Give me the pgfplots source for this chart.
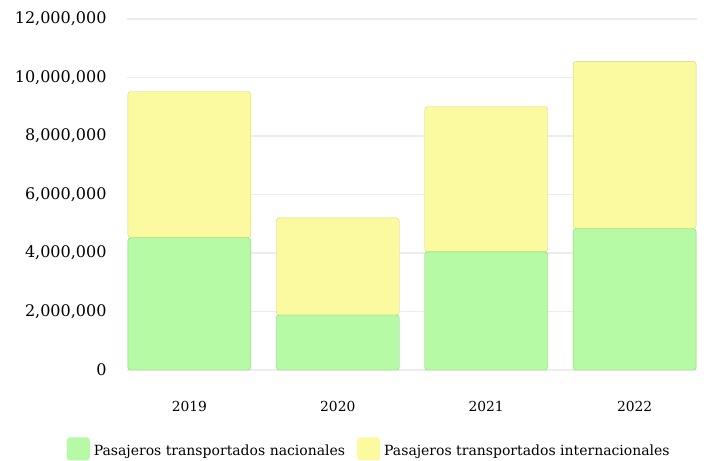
\documentclass[border=0pt]{standalone}
\usepackage{pgfplots}
\pgfplotsset{compat=1.18}
\usepackage{fontspec}
\setmainfont{DejaVu Serif}

\definecolor{nacional}{RGB}{183,250,165}
\definecolor{nacedge}{RGB}{130,215,115}
\definecolor{internac}{RGB}{252,250,160}
\definecolor{intedge}{RGB}{215,212,120}
\definecolor{gridc}{RGB}{236,236,236}

\begin{document}
\begin{tikzpicture}
\useasboundingbox (-127bp,-91bp) rectangle (577bp,370bp);
\begin{axis}[
    scale only axis,
    width=570bp, height=351bp,
    ybar stacked,
    bar width=123bp,
    xmin=-0.42, xmax=3.42,
    ymin=0, ymax=12000000,
    xtick={0,1,2,3},
    xticklabels={2019,2020,2021,2022},
    ytick={0,2000000,4000000,6000000,8000000,10000000,12000000},
    scaled y ticks=false,
    /pgf/number format/fixed,
    /pgf/number format/precision=0,
    /pgf/number format/1000 sep={,},
    /pgf/number format/assume math mode=true,
    yticklabel style={font=\fontsize{16bp}{18bp}\selectfont, xshift=-17bp},
    xticklabel style={font=\fontsize{13.8bp}{16bp}\selectfont, yshift=-28bp},
    major tick length=0pt,
    axis line style={draw=none},
    ymajorgrids,
    grid style={gridc, line width=1.2pt},
    legend columns=2,
    legend style={at={(0.425,-0.225)}, anchor=center, draw=none, fill=none,
      font=\fontsize{14bp}{16bp}\selectfont,
      /tikz/every odd column/.append style={column sep=2bp},
      /tikz/every even column/.append style={column sep=10bp}},
    legend image code/.code={\fill[#1, draw=none] (0bp,-10bp) rectangle (23bp,13bp);},
    clip=false,
  ]
  \addplot[fill=nacional, draw=nacedge, rounded corners=3bp] coordinates {(0,4520000) (1,1880000) (2,4040000) (3,4830000)};
  \addplot[fill=internac, draw=intedge, rounded corners=3bp] coordinates {(0,5000000) (1,3320000) (2,4960000) (3,5720000)};
  \legend{Pasajeros transportados nacionales, Pasajeros transportados internacionales}
\end{axis}
\end{tikzpicture}
\end{document}
